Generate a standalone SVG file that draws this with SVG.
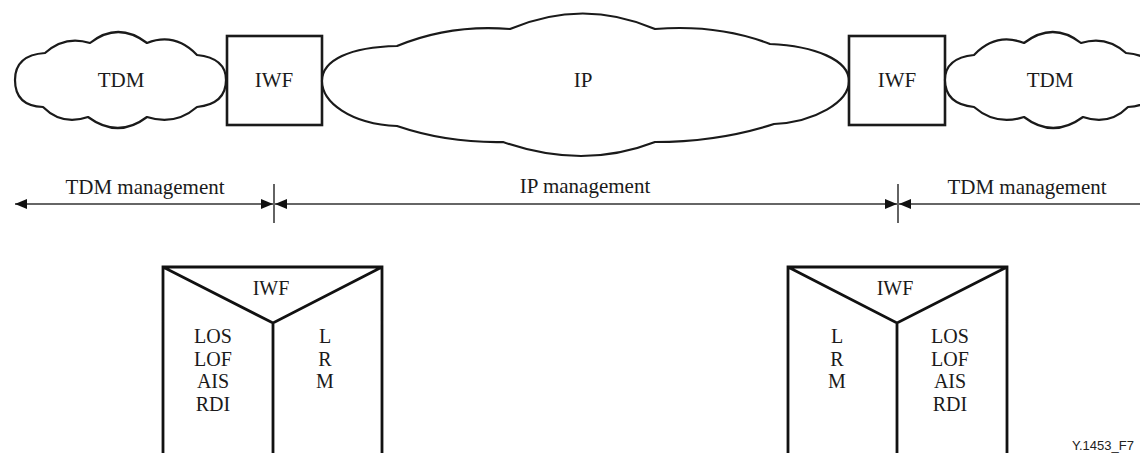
<svg xmlns="http://www.w3.org/2000/svg" width="1140" height="453" viewBox="0 0 1140 453">
  <style>
    .shape { fill: #ffffff; stroke: #1a1a1a; stroke-width: 2.2; stroke-linejoin: round; }
    .box { fill: #ffffff; stroke: #1a1a1a; stroke-width: 2.6; }
    .thick { fill: none; stroke: #111111; stroke-width: 2.8; }
    .conn { fill: none; stroke: #333333; stroke-width: 1.6; }
    .tick { fill: none; stroke: #222222; stroke-width: 1.4; }
    text.lbl { font-family: 'Liberation Serif', 'DejaVu Serif', 'Times New Roman', serif; font-size: 21px; fill: #1a1a1a; text-anchor: middle; }
    text.lbl2 { font-family: 'Liberation Serif', 'DejaVu Serif', 'Times New Roman', serif; font-size: 20px; fill: #1a1a1a; text-anchor: middle; }
    text.ref { font-family: 'Liberation Sans', Arial, sans-serif; font-size: 13px; fill: #222222; }
  </style>
  <defs>
    <marker id="arrow" markerUnits="userSpaceOnUse" markerWidth="12" markerHeight="10" refX="12" refY="5" orient="auto-start-reverse">
      <path d="M0,0 L12,5 L0,10 z" fill="#111111"/>
    </marker>
    <path id="tdmCloud" d="M15,80 Q15,55 45,53 Q65,35 90,43 Q118,21 147,43 Q175,32 197,55 Q226,58 226,80 Q226,104 197,107 Q175,126 147,117 Q118,139 88,117 Q62,126 43,107 Q15,106 15,80 Z"/>
  </defs>

  <g id="tdm-left">
    <use href="#tdmCloud" class="shape"/>
    <text class="lbl" x="121" y="87" font-family="Liberation Serif, serif">TDM</text>
  </g>

  <g id="iwf-left">
    <rect class="box" x="227" y="36" width="95" height="89"/>
    <text class="lbl" x="274" y="87">IWF</text>
  </g>

  <g id="ip-cloud">
    <path class="shape" d="M322,81 C322,60 350,47 397,46 Q450,24 510,29 Q583,-2 655,29 Q718,24 770,44 C815,46 849,60 849,81 C849,102 815,122 774,124 Q718,142 655,142 Q583,170 503,142 Q447,143 397,126 C350,124 322,102 322,81 Z"/>
    <text class="lbl" x="583" y="87">IP</text>
  </g>

  <g id="iwf-right">
    <rect class="box" x="849" y="36" width="96" height="89"/>
    <text class="lbl" x="897" y="87">IWF</text>
  </g>

  <g id="tdm-right">
    <use href="#tdmCloud" class="shape" transform="translate(1171,0) scale(-1,1)"/>
    <text class="lbl" x="1050" y="87">TDM</text>
  </g>

  <g id="connectors">
    <line class="conn" x1="15" y1="204" x2="273" y2="204" marker-start="url(#arrow)" marker-end="url(#arrow)"/>
    <line class="conn" x1="275" y1="204" x2="897" y2="204" marker-start="url(#arrow)" marker-end="url(#arrow)"/>
    <line class="conn" x1="899" y1="204" x2="1140" y2="204" marker-start="url(#arrow)"/>
    <line class="tick" x1="274" y1="184" x2="274" y2="223"/>
    <line class="tick" x1="898" y1="184" x2="898" y2="223"/>
  </g>

  <g id="mgmt-labels">
    <text class="lbl" x="145" y="194">TDM management</text>
    <text class="lbl" x="585" y="193">IP management</text>
    <text class="lbl" x="1027" y="194">TDM management</text>
  </g>

  <g id="iwf-detail-left">
    <path class="thick" d="M163,460 L163,267 L382,267 L382,460 M163,267 L273,323 L382,267 M273,323 L273,460"/>
    <text class="lbl2" x="271" y="295">IWF</text>
    <text class="lbl2" x="213" y="343">LOS</text>
    <text class="lbl2" x="213" y="366">LOF</text>
    <text class="lbl2" x="213" y="388">AIS</text>
    <text class="lbl2" x="213" y="411">RDI</text>
    <text class="lbl2" x="325" y="343">L</text>
    <text class="lbl2" x="325" y="366">R</text>
    <text class="lbl2" x="325" y="388">M</text>
  </g>

  <g id="iwf-detail-right">
    <path class="thick" d="M788,460 L788,267 L1007,267 L1007,460 M788,267 L897,323 L1007,267 M897,323 L897,460"/>
    <text class="lbl2" x="895" y="295">IWF</text>
    <text class="lbl2" x="837" y="343">L</text>
    <text class="lbl2" x="837" y="366">R</text>
    <text class="lbl2" x="837" y="388">M</text>
    <text class="lbl2" x="950" y="343">LOS</text>
    <text class="lbl2" x="950" y="366">LOF</text>
    <text class="lbl2" x="950" y="388">AIS</text>
    <text class="lbl2" x="950" y="411">RDI</text>
  </g>

  <text class="ref" x="1072" y="450">Y.1453_F7</text>
</svg>
